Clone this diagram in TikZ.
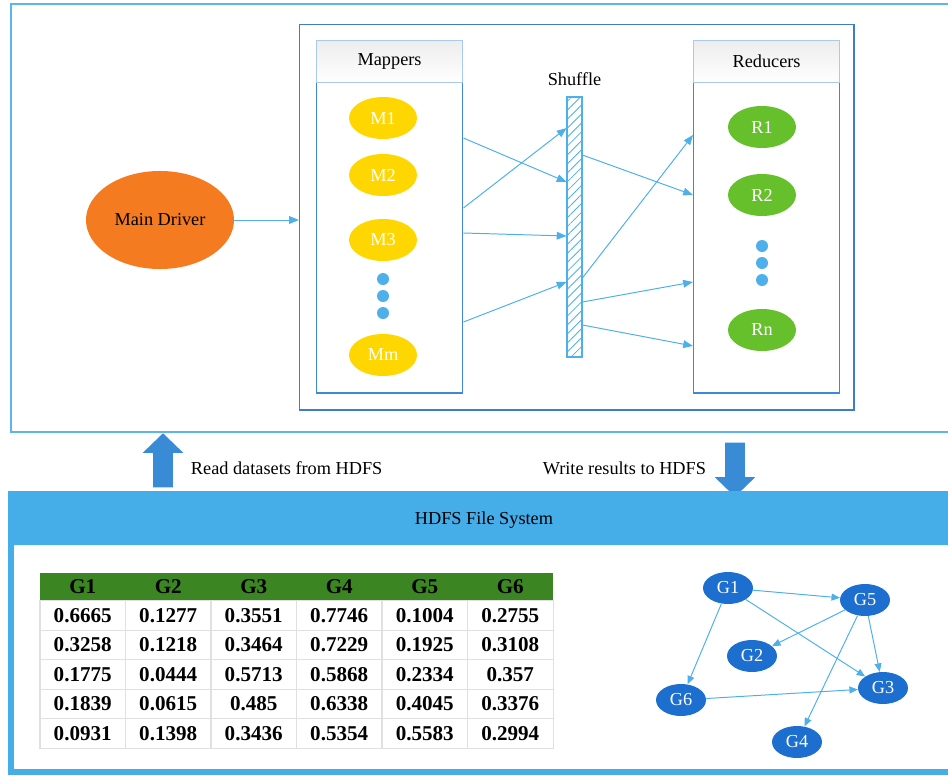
\documentclass[tikz,border=0pt]{standalone}
\usepackage{fontspec}
\setmainfont{Liberation Serif}
\usetikzlibrary{shapes.geometric,shapes.arrows,arrows.meta,patterns.meta,positioning,calc}
\definecolor{clrFrame}{HTML}{5CB6EC}
\definecolor{clrInner}{HTML}{3F7DC6}
\definecolor{clrPanel}{HTML}{3D88D8}
\definecolor{clrHead}{HTML}{A8CAEE}
\definecolor{clrLink}{HTML}{4DB0EA}
\definecolor{clrMap}{HTML}{FFD700}
\definecolor{clrRed}{HTML}{66C02C}
\definecolor{clrDrv}{HTML}{F47B20}
\definecolor{clrHdfs}{HTML}{45ADE8}
\definecolor{clrBlock}{HTML}{3A8BD6}
\definecolor{clrTab}{HTML}{3B8522}
\definecolor{clrGene}{HTML}{1C6FCE}
\tikzset{
  txt/.style={font=\fontsize{13}{15}\selectfont},
  panel/.style={rectangle, draw=clrPanel, line width=1pt, inner sep=0pt,
    minimum width=3.65cm, minimum height=8.8cm},
  panelhead/.style={rectangle, draw=clrHead, line width=0.8pt, inner sep=0pt,
    top color=black!7, bottom color=white,
    minimum width=3.65cm, minimum height=1.05cm, txt},
  mapnode/.style={ellipse, fill=clrMap, text=white, inner sep=0pt,
    minimum width=1.7cm, minimum height=1.05cm, txt},
  rednode/.style={mapnode, fill=clrRed},
  dotnode/.style={circle, fill=clrLink, inner sep=0pt, minimum size=0.3cm},
  link/.style={-{Triangle[length=7pt,width=5.5pt]}, line width=0.7pt, clrLink},
  blockarr/.style={single arrow, fill=clrBlock, inner sep=0.2375cm,
    single arrow head extend=0.2625cm, single arrow tip angle=92,
    minimum height=1.35cm},
  tabhead/.style={rectangle, fill=clrTab, inner sep=0pt,
    minimum width=2.14cm, minimum height=0.7cm,
    font=\fontsize{15}{17}\selectfont\bfseries},
  tabcell/.style={rectangle, draw=black!12, line width=0.8pt, inner sep=0pt,
    minimum width=2.14cm, minimum height=0.74cm,
    font=\fontsize{15}{17}\selectfont\bfseries},
  gnode/.style={ellipse, fill=clrGene, text=white, inner sep=0pt,
    minimum width=1.25cm, minimum height=0.8cm, txt},
}

\begin{document}
\begin{tikzpicture}[x=0.025cm, y=-0.025cm]
\useasboundingbox (0,0) rectangle (948,776);

% oberer Rahmen: Treiber und MapReduce-Job
\draw[clrFrame, line width=1.4pt] (11,4) rectangle (965,432);
\node[rectangle, draw=clrInner, line width=1pt, inner sep=0pt,
      minimum width=13.85cm, minimum height=9.63cm, anchor=north west]
  (frame) at (299,24) {};

\node[ellipse, fill=clrDrv, minimum width=3.7cm, minimum height=2.45cm, txt]
  (drv) at (160,220) {Main Driver};
\draw[link] (drv.east) -- (frame.west |- drv.east);

\node[panel, anchor=north west] (mapP) at (316,40) {};
\node[panelhead, anchor=north west] (mapH) at (316,40) {Mappers};
\node[panel, anchor=north west] (redP) at (693,40) {};
\node[panelhead, anchor=north west] (redH) at (693,40) {Reducers};

\node[mapnode] (m1) at (383,118) {M1};
\node[mapnode] (m2) at (383,175) {M2};
\node[mapnode] (m3) at (383,240) {M3};
\node[mapnode] (mm) at (383,355) {Mm};
\foreach \yy in {279,296,313}
  \node[dotnode] (md\yy) at (383,\yy) {};

\node[rednode] (r1) at (762,127) {R1};
\node[rednode] (r2) at (762,195) {R2};
\node[rednode] (rn) at (762,330) {Rn};
\foreach \yy in {246,263,280}
  \node[dotnode] (rd\yy) at (762,\yy) {};

\node[rectangle, draw=clrLink, line width=0.8pt, inner sep=0pt,
      minimum width=0.375cm, minimum height=6.5cm,
      pattern={Lines[angle=45,distance=4.5pt,line width=0.6pt]},
      pattern color=clrLink] (shuf) at (574.5,227) {};
\node[txt, above=4pt of shuf] (shufT) {Shuffle};

% Mapper -> Shuffle -> Reducer
\foreach \ya/\yb in {138/182, 208/128, 233/236, 322/282}
  \draw[link] (mapP.east |- 0,\ya) -- (shuf.west |- 0,\yb);
\foreach \ya/\yb in {155/195, 278/135, 302/282, 325/346}
  \draw[link] (shuf.east |- 0,\ya) -- (redP.west |- 0,\yb);

% Lesen / Schreiben
\node[blockarr, rotate=90] (upArr) at (163,465) {};
\node[txt, anchor=west] (readT) at (186,468) {Read datasets from HDFS};
\node[blockarr, rotate=-90] (dnArr) at (735,465) {};
\node[txt, anchor=east] (writeT) at (711,468) {Write results to HDFS};

% HDFS-Kasten
\draw[clrHdfs, line width=3.6pt] (11,494) rectangle (965,772);
\fill[clrHdfs] (8,545) [rounded corners=7pt]-- (8,494) [sharp corners]-- (965,494)
  -- (965,545) -- cycle;
\node[txt] (hdfsT) at (484,520) {HDFS File System};

\def\tabx{40}
\def\taby{573}
\def\cw{85.5}
\def\rh{29.4}
\foreach \g [count=\i] in {G1,G2,G3,G4,G5,G6}
  \node[tabhead] (h\i) at ({\tabx+(\i-0.5)*\cw}, {\taby+14}) {\g};
\foreach \row [count=\r] in {
    {0.6665,0.1277,0.3551,0.7746,0.1004,0.2755},
    {0.3258,0.1218,0.3464,0.7229,0.1925,0.3108},
    {0.1775,0.0444,0.5713,0.5868,0.2334,0.357},
    {0.1839,0.0615,0.485,0.6338,0.4045,0.3376},
    {0.0931,0.1398,0.3436,0.5354,0.5583,0.2994}}{
  \foreach \v [count=\c] in \row
    \node[tabcell] (t\r\c) at ({\tabx+(\c-0.5)*\cw}, {\taby+28+(\r-0.5)*\rh}) {\v};
}

% Gengraph
\node[gnode] (g1) at (728,588) {G1};
\node[gnode] (g5) at (865,600) {G5};
\node[gnode] (g2) at (752,656) {G2};
\node[gnode] (g6) at (681,700) {G6};
\node[gnode] (g3) at (883,688) {G3};
\node[gnode] (g4) at (797,742) {G4};
\foreach \a/\b in {g1/g5, g1/g6, g1/g3, g5/g2, g5/g3, g5/g4, g6/g3}
  \draw[link, -{Triangle[length=6pt,width=5pt]}] (\a) -- (\b);

\end{tikzpicture}
\end{document}
